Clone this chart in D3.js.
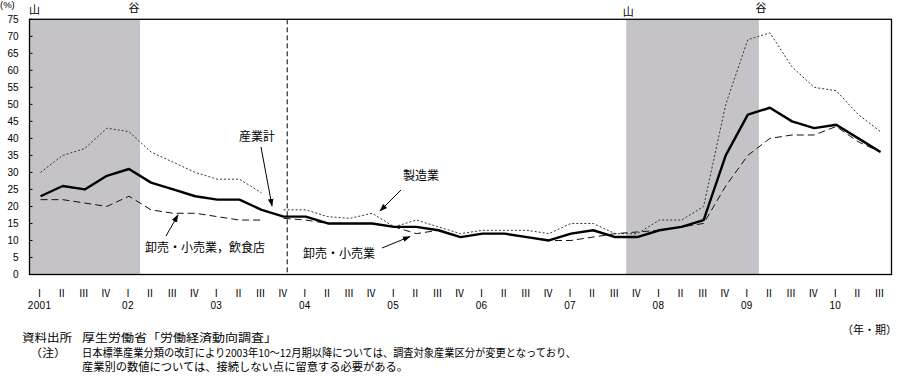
<!DOCTYPE html>
<html><head><meta charset="utf-8">
<script src="https://cdn.jsdelivr.net/npm/d3@7"></script>
<style>
body{margin:0;background:#fff;}
svg{display:block;}
.jp{font-family:"Noto Sans CJK JP","Noto Sans",sans-serif;}
.num{font-family:"Liberation Sans",Arial,sans-serif;}
</style></head><body>
<svg id="c" width="899" height="376"></svg>
<script>
// ---- data ----
const yearLabels = ["2001","02","03","04","05","06","07","08","09","10"];
const quarterLabels = ["Ⅰ","Ⅱ","Ⅲ","Ⅳ"];
const nQuarters = 39; // 2001 I .. 2010 III
const total =         [23,26,25,29, 31,27,25,23, 22,22,19,17, 17,15,15,15, 14,14,13,11, 12,12,11,10, 12,13,11,11, 13,14,16,35, 47,49,45,43, 44,40,36];
const manufacturing = [30,35,37,43, 42,36,33,30, 28,28,24,19, 19,17,16.5,18, 14,16,14,12, 13,13,13,12, 15,15,12,12, 16,16,20,50, 69,71,61,55, 54,47,42];
const wholesale =     [22,22,21,20, 23,19,18,18, 17,16,16,16.5, 16,15,15,15, 14,12,13,11, 12,12,11,10, 10,11,12,12.5, 13,14,15,26, 35,40,41,41, 43.5,39,36];
const breakIndex = 11;              // industry classification revised from 2003 IV
const recessions = [[0,4],[27,32]]; // [peak quarter index, trough quarter index]
const yTicks = d3.range(0,80,5);

const categories = [];
yearLabels.forEach((y,yi)=>quarterLabels.forEach((q,qi)=>{ if(categories.length<nQuarters) categories.push({year:y,q:q,qi:qi,key:y+"-"+q}); }));

// ---- layout ----
const svg = d3.select("#c");
const L=29.5, R=891.5, T=19.3, B=274.5;
const x = d3.scaleBand().domain(categories.map(d=>d.key)).range([L,R]).padding(0);
const bw = x.bandwidth();
const cx = i => x(categories[i].key)+bw/2;
const y = d3.scaleLinear().domain([0,75]).range([B,T]);

// recession shading
recessions.forEach((r,k)=>{
  const x0=x(categories[r[0]].key), x1=x(categories[r[1]].key)+bw;
  svg.append("rect").attr("x",x0).attr("y",T).attr("width",x1-x0).attr("height",B-T).attr("fill","#c5c3c7");
  const dx = k===0 ? [5,-6] : [2,2];
  const ty = k===0 ? [13.5,12] : [16,12];
  svg.append("text").attr("class","jp").attr("x",x0+dx[0]).attr("y",ty[0]).attr("text-anchor","middle").attr("font-size",11).text("山");
  svg.append("text").attr("class","jp").attr("x",x1+dx[1]).attr("y",ty[1]).attr("text-anchor","middle").attr("font-size",11).text("谷");
});

// box
svg.append("rect").attr("x",L).attr("y",T).attr("width",R-L).attr("height",B-T).attr("fill","none").attr("stroke","#000").attr("stroke-width",1.3);

// y ticks (inside)
yTicks.forEach(t=>{
  svg.append("line").attr("x1",L).attr("x2",L+3).attr("y1",y(t)).attr("y2",y(t)).attr("stroke","#000").attr("stroke-width",1);
  svg.append("text").attr("class","num").attr("x",18.5).attr("y",y(t)+3.5).attr("text-anchor","end").attr("font-size",10).text(t);
});
svg.append("text").attr("class","num").attr("x",0).attr("y",8).attr("font-size",9.5).text("(%)");

// x labels
categories.forEach((c,i)=>{
  svg.append("text").attr("class","jp").attr("x",cx(i)-1).attr("y",297).attr("text-anchor","middle").attr("font-size",10).text(c.q);
  if(c.qi===0) svg.append("text").attr("class","num").attr("x",cx(i)-1).attr("y",309).attr("text-anchor","middle").attr("font-size",10).attr("letter-spacing",0.3).text(c.year);
});

// break line
const bx = cx(breakIndex)+bw*0.16;
svg.append("line").attr("x1",bx).attr("x2",bx).attr("y1",T).attr("y2",B).attr("stroke","#000").attr("stroke-width",1).attr("stroke-dasharray","5,3");

// lines
const line = d3.line().x(d=>cx(d.i)).y(d=>y(d.v));
const pts = arr => arr.map((v,i)=>({i,v}));
function seg(arr,a,b){ return pts(arr).slice(a,b); }
[[0,breakIndex],[breakIndex,nQuarters]].forEach(([a,b])=>{
  svg.append("path").attr("d",line(seg(manufacturing,a,b))).attr("fill","none").attr("stroke","#333").attr("stroke-width",1).attr("stroke-dasharray","2,2");
  svg.append("path").attr("d",line(seg(wholesale,a,b))).attr("fill","none").attr("stroke","#111").attr("stroke-width",1).attr("stroke-dasharray","7,4");
});
svg.append("path").attr("d",line(pts(total))).attr("fill","none").attr("stroke","#000").attr("stroke-width",2.4).attr("stroke-linejoin","round");

// annotations
svg.append("defs").append("marker").attr("id","ah").attr("viewBox","0 0 10 10").attr("refX",9).attr("refY",5)
  .attr("markerWidth",8).attr("markerHeight",8).attr("markerUnits","userSpaceOnUse").attr("orient","auto")
  .append("path").attr("d","M0,1.5L10,5L0,8.5Z").attr("fill","#000");
const notes = [
  {t:"産業計", tx:239, ty:141, a:[261,147], b:[272,206]},
  {t:"卸売・小売業，飲食店", tx:145, ty:252, a:[166,236], b:[178,215]},
  {t:"製造業", tx:403, ty:180, a:[401,190], b:[380,211]},
  {t:"卸売・小売業", tx:303, ty:258, a:[382,248], b:[410,236.5]}
];
notes.forEach(n=>{
  svg.append("text").attr("class","jp").attr("x",n.tx).attr("y",n.ty).attr("font-size",12).text(n.t);
  svg.append("line").attr("x1",n.a[0]).attr("y1",n.a[1]).attr("x2",n.b[0]).attr("y2",n.b[1]).attr("stroke","#000").attr("stroke-width",1).attr("marker-end","url(#ah)");
});

// footer
svg.append("text").attr("class","jp").attr("x",897).attr("y",334).attr("text-anchor","end").attr("font-size",11).text("（年・期）");
const foot = [
  {x:22,y:342,w:50,t:"資料出所"},{x:82,y:342,w:195,t:"厚生労働省「労働経済動向調査」"},
  {x:30,y:357,w:36,t:"（注）"},{x:82,y:357,w:494,t:"日本標準産業分類の改訂により2003年10～12月期以降については、調査対象産業区分が変更となっており、"},
  {x:82,y:371,w:326,t:"産業別の数値については、接続しない点に留意する必要がある。"}
];
foot.forEach(f=>svg.append("text").attr("class","jp").attr("x",f.x).attr("y",f.y).attr("font-size",11)
  .attr("textLength",f.w).attr("lengthAdjust","spacingAndGlyphs").text(f.t));
</script>
</body></html>
